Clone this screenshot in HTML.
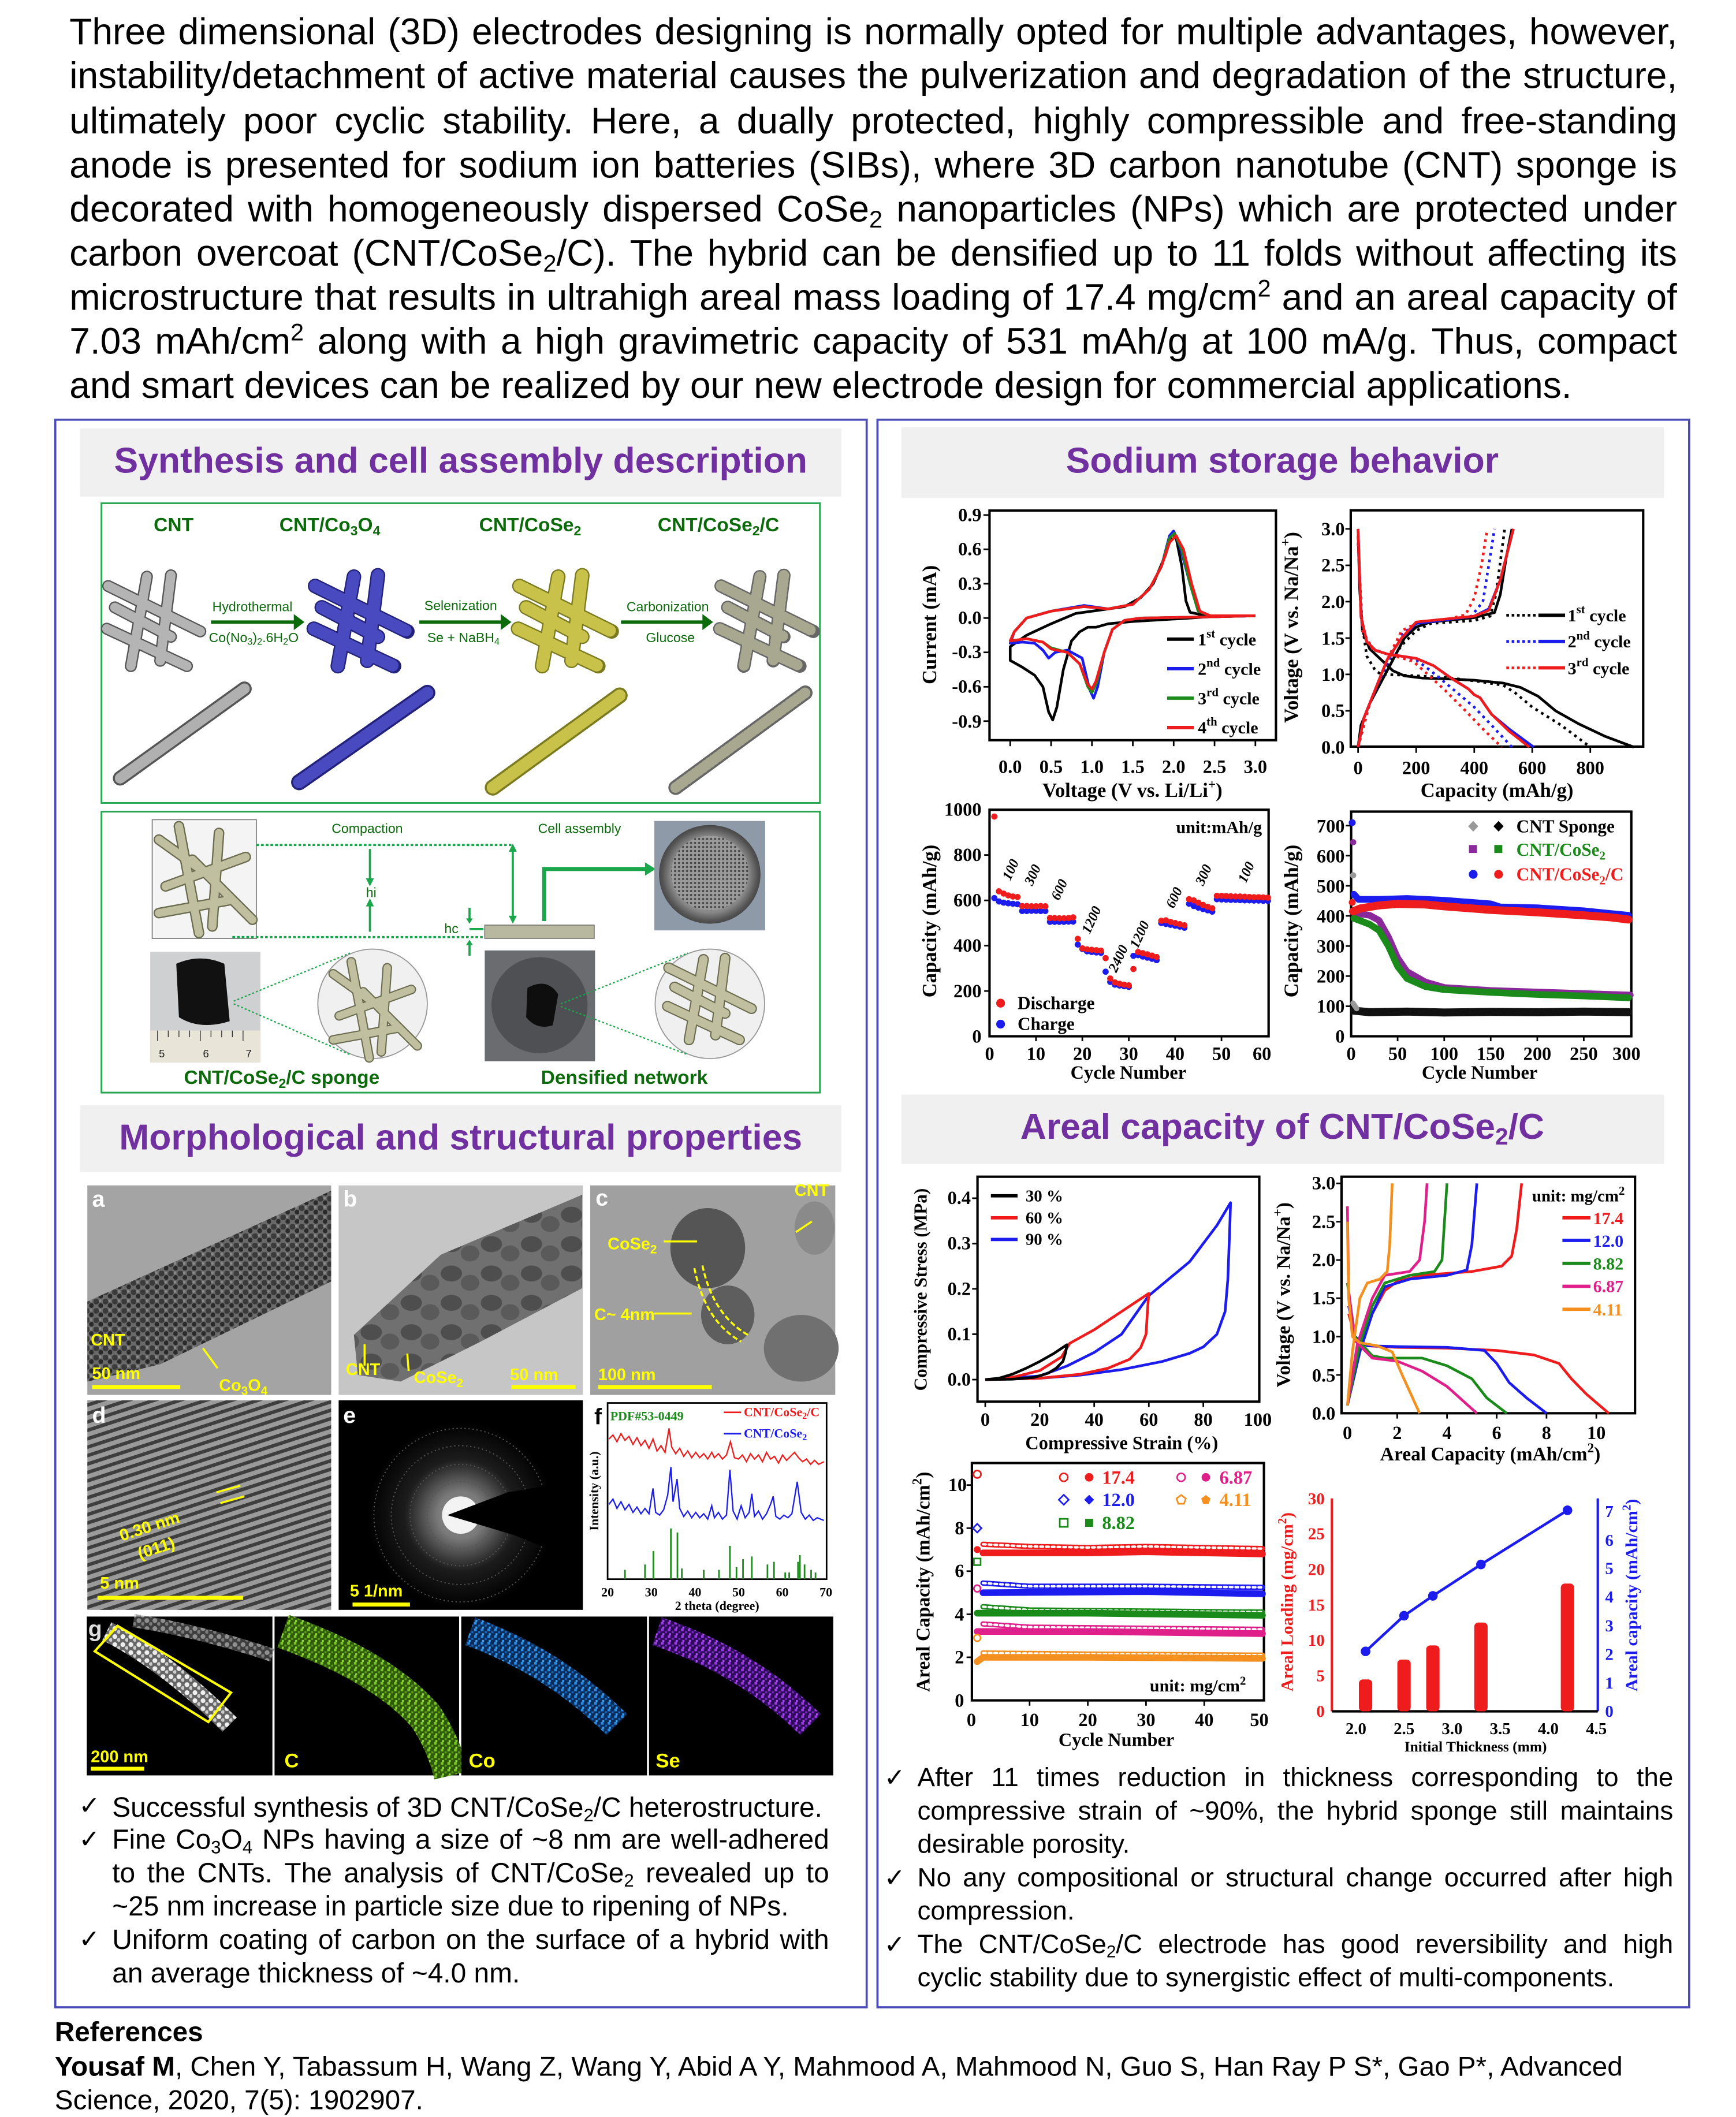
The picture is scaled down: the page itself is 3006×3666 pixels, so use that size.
<!DOCTYPE html>
<html><head><meta charset="utf-8">
<style>
html,body{margin:0;padding:0;background:#fff;}
body{width:3006px;height:3657px;overflow:hidden;position:relative;}
#p{position:absolute;left:0;top:0;width:1300px;height:1582px;transform:scale(2.31231,2.31163);transform-origin:0 0;font-family:"Liberation Sans",Arial,sans-serif;color:#000;}
.ab{position:absolute;left:52px;width:1204px;font-size:27.7px;line-height:33px;height:33px;}
.j{display:flex;justify-content:space-between;white-space:nowrap;}
.j span{display:inline-block;}
sub{font-size:0.65em;vertical-align:-0.25em;line-height:0;}
sup{font-size:0.65em;vertical-align:0.55em;line-height:0;}
.bl{position:absolute;font-size:20.7px;line-height:25px;height:25px;white-space:nowrap;}
.br{font-size:19.8px;}
.ck{position:absolute;font-size:19px;line-height:25px;font-family:"DejaVu Sans",sans-serif;}
.hd{position:absolute;background:#f0f0f0;color:#7030a0;font-weight:bold;font-size:27px;text-align:center;}
svg{position:absolute;left:0;top:0;}
</style></head><body><div id="p">

<div class="ab j" style="top:7px"><span>Three</span><span>dimensional</span><span>(3D)</span><span>electrodes</span><span>designing</span><span>is</span><span>normally</span><span>opted</span><span>for</span><span>multiple</span><span>advantages,</span><span>however,</span></div>
<div class="ab j" style="top:40px"><span>instability/detachment</span><span>of</span><span>active</span><span>material</span><span>causes</span><span>the</span><span>pulverization</span><span>and</span><span>degradation</span><span>of</span><span>the</span><span>structure,</span></div>
<div class="ab j" style="top:73.5px"><span>ultimately</span><span>poor</span><span>cyclic</span><span>stability.</span><span>Here,</span><span>a</span><span>dually</span><span>protected,</span><span>highly</span><span>compressible</span><span>and</span><span>free-standing</span></div>
<div class="ab j" style="top:106.5px"><span>anode</span><span>is</span><span>presented</span><span>for</span><span>sodium</span><span>ion</span><span>batteries</span><span>(SIBs),</span><span>where</span><span>3D</span><span>carbon</span><span>nanotube</span><span>(CNT)</span><span>sponge</span><span>is</span></div>
<div class="ab j" style="top:139.5px"><span>decorated</span><span>with</span><span>homogeneously</span><span>dispersed</span><span>CoSe<sub>2</sub></span><span>nanoparticles</span><span>(NPs)</span><span>which</span><span>are</span><span>protected</span><span>under</span></div>
<div class="ab j" style="top:173px"><span>carbon</span><span>overcoat</span><span>(CNT/CoSe<sub>2</sub>/C).</span><span>The</span><span>hybrid</span><span>can</span><span>be</span><span>densified</span><span>up</span><span>to</span><span>11</span><span>folds</span><span>without</span><span>affecting</span><span>its</span></div>
<div class="ab j" style="top:206px"><span>microstructure</span><span>that</span><span>results</span><span>in</span><span>ultrahigh</span><span>areal</span><span>mass</span><span>loading</span><span>of</span><span>17.4</span><span>mg/cm<sup>2</sup></span><span>and</span><span>an</span><span>areal</span><span>capacity</span><span>of</span></div>
<div class="ab j" style="top:239px"><span>7.03</span><span>mAh/cm<sup>2</sup></span><span>along</span><span>with</span><span>a</span><span>high</span><span>gravimetric</span><span>capacity</span><span>of</span><span>531</span><span>mAh/g</span><span>at</span><span>100</span><span>mA/g.</span><span>Thus,</span><span>compact</span></div>
<div class="ab" style="top:272px;white-space:nowrap">and smart devices can be realized by our new electrode design for commercial applications.</div>

<svg width="1300" height="1582" viewBox="0 0 1300 1582">
<defs>
<pattern id="dots" width="7" height="7" patternUnits="userSpaceOnUse"><rect width="7" height="7" fill="#6a6a6a"/><circle cx="2" cy="2" r="2.2" fill="#3a3a3a"/><circle cx="5.5" cy="5" r="1.8" fill="#2a2a2a"/><circle cx="5" cy="1.5" r="1" fill="#8a8a8a"/></pattern>
<pattern id="fr" width="160" height="6" patternUnits="userSpaceOnUse" patternTransform="rotate(-18)"><rect width="160" height="6" fill="#9a9a9a"/><rect width="160" height="2.6" fill="#3e3e3e"/></pattern>
<pattern id="blobs" width="30" height="22" patternUnits="userSpaceOnUse"><rect width="30" height="22" fill="#707070"/><ellipse cx="8" cy="8" rx="8" ry="6" fill="#4e4e4e"/><ellipse cx="22" cy="15" rx="7" ry="6" fill="#5a5a5a"/></pattern>
<pattern id="ng" width="5" height="5" patternUnits="userSpaceOnUse"><rect width="5" height="5" fill="#2e5a0a"/><rect x="0" y="0" width="2" height="2" fill="#7ac428"/><rect x="3" y="2" width="1.5" height="1.5" fill="#5ea01c"/><rect x="1" y="3.5" width="1.5" height="1.5" fill="#8fd83a"/></pattern>
<pattern id="nb" width="5" height="5" patternUnits="userSpaceOnUse"><rect width="5" height="5" fill="#0a2c5a"/><rect x="0" y="0" width="2" height="2" fill="#2a8ae0"/><rect x="3" y="2" width="1.5" height="1.5" fill="#1a6ac0"/><rect x="1" y="3.5" width="1.5" height="1.5" fill="#3aa0f0"/></pattern>
<pattern id="np" width="5" height="5" patternUnits="userSpaceOnUse"><rect width="5" height="5" fill="#2e0a5a"/><rect x="0" y="0" width="2" height="2" fill="#9a3ae0"/><rect x="3" y="2" width="1.5" height="1.5" fill="#7a2ac0"/><rect x="1" y="3.5" width="1.5" height="1.5" fill="#a84af0"/></pattern>
<pattern id="nw" width="6" height="6" patternUnits="userSpaceOnUse"><rect width="6" height="6" fill="#666"/><circle cx="2" cy="2" r="1.8" fill="#eee"/><circle cx="5" cy="4.5" r="1.4" fill="#ccc"/></pattern>
<radialGradient id="glow"><stop offset="0" stop-color="#fff"/><stop offset="0.25" stop-color="#ddd"/><stop offset="0.6" stop-color="#333"/><stop offset="1" stop-color="#000"/></radialGradient>
<radialGradient id="coin" cx="0.5" cy="0.5" r="0.55"><stop offset="0" stop-color="#bbb"/><stop offset="0.7" stop-color="#888"/><stop offset="0.85" stop-color="#555"/><stop offset="1" stop-color="#333"/></radialGradient>
<pattern id="mesh" width="3" height="3" patternUnits="userSpaceOnUse"><rect width="3" height="3" fill="#9a9a9a"/><circle cx="1.5" cy="1.5" r="0.8" fill="#444"/></pattern>
<g id="cl"><line x1="3" y1="10" x2="72" y2="44"/><line x1="2" y1="42" x2="62" y2="70"/><line x1="32" y1="3" x2="20" y2="70"/><line x1="50" y1="2" x2="42" y2="66"/><line x1="8" y1="26" x2="50" y2="48"/></g>
<g id="cube"><line x1="5" y1="15" x2="40" y2="40"/><line x1="10" y1="50" x2="70" y2="28"/><line x1="20" y1="5" x2="35" y2="85"/><line x1="50" y1="10" x2="45" y2="80"/><line x1="5" y1="70" x2="60" y2="60"/><line x1="30" y1="30" x2="75" y2="75"/></g>
</defs>

<rect x="41.4" y="314.4" width="607.6" height="1189.3" fill="none" stroke="#4a4ab8" stroke-width="1.6"/>
<rect x="657.1" y="314.4" width="607.8" height="1189.3" fill="none" stroke="#4a4ab8" stroke-width="1.6"/>

<rect x="76" y="377" width="538" height="224.5" fill="#fff" stroke="#2aa552" stroke-width="1.3"/>
<g font-family="Liberation Sans,sans-serif" font-weight="bold" fill="#0b6b0b" text-anchor="middle" font-size="14.5">
<text x="130" y="398">CNT</text>
<text x="247" y="398">CNT/Co<tspan font-size="10" dy="3">3</tspan><tspan dy="-3">O</tspan><tspan font-size="10" dy="3">4</tspan></text>
<text x="397" y="398">CNT/CoSe<tspan font-size="10" dy="3">2</tspan></text>
<text x="538" y="398">CNT/CoSe<tspan font-size="10" dy="3">2</tspan><tspan dy="-3">/C</tspan></text>
<g font-size="10" font-weight="normal" fill="#0b6b0b">
<text x="189" y="458">Hydrothermal</text>
<text x="190" y="481">Co(No<tspan font-size="7" dy="2">3</tspan><tspan dy="-2">)</tspan><tspan font-size="7" dy="2">2</tspan><tspan dy="-2">.6H</tspan><tspan font-size="7" dy="2">2</tspan><tspan dy="-2">O</tspan></text>
<text x="345" y="457">Selenization</text>
<text x="347" y="481">Se + NaBH<tspan font-size="7" dy="2">4</tspan></text>
<text x="500" y="458">Carbonization</text>
<text x="502" y="481">Glucose</text>
</g></g>
<g stroke="#0b6b0b" stroke-width="2.5" fill="#0b6b0b">
<line x1="158" y1="466" x2="222" y2="466"/><polygon points="220,460 228,466 220,472" stroke="none"/>
<line x1="314" y1="466" x2="377" y2="466"/><polygon points="375,460 383,466 375,472" stroke="none"/>
<line x1="465" y1="466" x2="528" y2="466"/><polygon points="526,460 534,466 526,472" stroke="none"/>
</g>
<g transform="translate(78,429)" stroke-linecap="round" fill="none"><use href="#cl" stroke="#555" stroke-width="9"/><use href="#cl" stroke="#b4b4b4" stroke-width="7"/></g>
<g transform="translate(233,429)" stroke-linecap="round" fill="none"><use href="#cl" stroke="#22227a" stroke-width="11"/><use href="#cl" stroke="#4a4ac0" stroke-width="9" stroke-dasharray="2 1.5"/></g>
<g transform="translate(386,429)" stroke-linecap="round" fill="none"><use href="#cl" stroke="#7a7a20" stroke-width="11"/><use href="#cl" stroke="#c9c24a" stroke-width="9" stroke-dasharray="2 1.5"/></g>
<g transform="translate(537,429)" stroke-linecap="round" fill="none"><use href="#cl" stroke="#666" stroke-width="10"/><use href="#cl" stroke="#a8a890" stroke-width="8" stroke-dasharray="1 2.5"/></g>
<g stroke-linecap="round">
<line x1="90" y1="583" x2="183" y2="516" stroke="#555" stroke-width="11"/><line x1="90" y1="583" x2="183" y2="516" stroke="#b0b0b0" stroke-width="8"/>
<line x1="224" y1="586" x2="320" y2="519" stroke="#22227a" stroke-width="12"/><line x1="224" y1="586" x2="320" y2="519" stroke="#4a4ac0" stroke-width="9" stroke-dasharray="2 1.5"/>
<line x1="369" y1="590" x2="464" y2="521" stroke="#7a7a20" stroke-width="12"/><line x1="369" y1="590" x2="464" y2="521" stroke="#c9c24a" stroke-width="9" stroke-dasharray="2 1.5"/>
<line x1="506" y1="590" x2="603" y2="519" stroke="#666" stroke-width="11"/><line x1="506" y1="590" x2="603" y2="519" stroke="#a8a890" stroke-width="8" stroke-dasharray="1 2.5"/>
</g>

<rect x="76" y="608" width="538" height="210.5" fill="#fff" stroke="#2aa552" stroke-width="1.3"/>
<rect x="114" y="614" width="78" height="89" fill="#f4f4f4" stroke="#888" stroke-width="0.8"/>
<g transform="translate(114,614)" stroke-linecap="round" fill="none"><use href="#cube" stroke="#6b6b50" stroke-width="8"/><use href="#cube" stroke="#c0c0a0" stroke-width="6"/></g>
<g font-family="Liberation Sans,sans-serif" fill="#0b6b0b" font-size="10" text-anchor="middle">
<text x="275" y="624">Compaction</text><text x="434" y="624">Cell assembly</text><text x="278" y="672">hi</text><text x="338" y="699">hc</text>
</g>
<g stroke="#1aa64a" stroke-width="1.6" fill="none">
<line x1="192" y1="633" x2="384" y2="633" stroke-dasharray="2 1.5"/>
<line x1="174" y1="702" x2="362" y2="702" stroke-dasharray="2 1.5"/>
<line x1="277" y1="636" x2="277" y2="660"/><line x1="277" y1="698" x2="277" y2="677"/>
<line x1="384" y1="636" x2="384" y2="689"/>
<line x1="351.6" y1="680" x2="351.6" y2="690"/><line x1="351.6" y1="716" x2="351.6" y2="706"/><line x1="351.6" y1="696" x2="362" y2="696"/>
<path d="M407.5,690 L407.5,651 L484,651" stroke-width="3"/>
</g>
<g fill="#1aa64a"><polygon points="274,658 280,658 277,664"/><polygon points="274,679 280,679 277,673"/><polygon points="381,638 387,638 384,632"/><polygon points="381,686 387,686 384,692"/><polygon points="483,646 491,651 483,656"/><polygon points="349,688 354,688 351.6,692"/><polygon points="349,708 354,708 351.6,704"/></g>
<rect x="363" y="693" width="82" height="10" fill="#b8b8a0" stroke="#666" stroke-width="0.6"/>
<rect x="490" y="615" width="83" height="82" fill="#8e9aa8"/>
<ellipse cx="531.5" cy="655" rx="38" ry="37" fill="url(#coin)"/>
<ellipse cx="531.5" cy="654" rx="29" ry="28" fill="url(#mesh)"/>
<rect x="112.5" y="713" width="82.5" height="83" fill="#cfd0d2"/>
<path d="M132,722 Q150,714 168,722 L172,765 Q150,772 134,762 Z" fill="#111"/>
<rect x="112.5" y="772" width="82.5" height="24" fill="#e8e4d8"/>
<g stroke="#333" stroke-width="0.6"><line x1="118" y1="772" x2="118" y2="780"/><line x1="126" y1="772" x2="126" y2="777"/><line x1="134" y1="772" x2="134" y2="777"/><line x1="142" y1="772" x2="142" y2="777"/><line x1="150" y1="772" x2="150" y2="780"/><line x1="158" y1="772" x2="158" y2="777"/><line x1="166" y1="772" x2="166" y2="777"/><line x1="174" y1="772" x2="174" y2="777"/><line x1="182" y1="772" x2="182" y2="780"/></g>
<g font-family="Liberation Sans" font-size="8" fill="#222"><text x="119" y="792">5</text><text x="152" y="792">6</text><text x="184" y="792">7</text></g>
<circle cx="279" cy="752" r="41" fill="#f0f0f0" stroke="#999" stroke-width="0.8"/>
<g transform="translate(245,716) scale(0.9)" stroke-linecap="round" fill="none"><use href="#cube" stroke="#6b6b50" stroke-width="8"/><use href="#cube" stroke="#c0c0a0" stroke-width="6"/></g>
<rect x="363" y="712" width="82.6" height="83" fill="#6a6c70"/>
<circle cx="404" cy="753" r="36" fill="#4e5054"/>
<path d="M395,740 Q410,732 418,745 L414,768 Q402,772 394,762 Z" fill="#0e0e0e"/>
<circle cx="531.6" cy="752" r="41" fill="#f0f0f0" stroke="#999" stroke-width="0.8"/>
<g transform="translate(498,716) scale(0.9)" stroke-linecap="round" fill="none"><use href="#cl" stroke="#6b6b50" stroke-width="9"/><use href="#cl" stroke="#c0c0a0" stroke-width="7"/></g>
<g stroke="#1aa64a" stroke-width="1" stroke-dasharray="1.5 1.5"><line x1="175" y1="750" x2="262" y2="714"/><line x1="175" y1="752" x2="262" y2="790"/><line x1="420" y1="752" x2="515" y2="714"/><line x1="420" y1="754" x2="515" y2="790"/></g>
<g font-family="Liberation Sans,sans-serif" font-weight="bold" fill="#0b6b0b" text-anchor="middle" font-size="14.5">
<text x="211" y="812">CNT/CoSe<tspan font-size="10" dy="3">2</tspan><tspan dy="-3">/C sponge</tspan></text>
<text x="467.5" y="812">Densified network</text>
</g>

<rect x="65.4" y="888" width="182.6" height="157" fill="#a4a4a4"/>
<polygon points="65.4,975 248,892 248,960 120,1022 65.4,1035" fill="url(#dots)"/>
<rect x="253.6" y="888" width="182.9" height="157" fill="#c6c6c6"/>
<polygon points="265,1000 330,940 436,895 436,965 360,1005 300,1035 268,1030" fill="url(#blobs)"/>
<rect x="442" y="888" width="183.5" height="157" fill="#a0a0a0"/>
<ellipse cx="530" cy="935" rx="28" ry="30" fill="#555"/><ellipse cx="545" cy="985" rx="20" ry="22" fill="#5e5e5e"/><ellipse cx="600" cy="1010" rx="28" ry="25" fill="#707070"/><ellipse cx="610" cy="920" rx="15" ry="20" fill="#8a8a8a"/>
<path d="M520,950 Q528,990 555,1005" stroke="#ffff00" stroke-width="1.5" fill="none" stroke-dasharray="4 2"/><path d="M526,948 Q534,985 560,1000" stroke="#ffff00" stroke-width="1.5" fill="none" stroke-dasharray="4 2"/>
<rect x="65.4" y="1049" width="182.6" height="157" fill="url(#fr)"/>
<rect x="253.6" y="1049" width="182.9" height="157" fill="#000"/>
<circle cx="345" cy="1135" r="70" fill="url(#glow)" opacity="0.55"/>
<g fill="none" stroke="#555" stroke-width="0.8" stroke-dasharray="1 2"><circle cx="345" cy="1135" r="25"/><circle cx="345" cy="1135" r="38"/><circle cx="345" cy="1135" r="52"/><circle cx="345" cy="1135" r="65"/></g>
<circle cx="345" cy="1135" r="14" fill="#fff" opacity="0.9"/>
<polygon points="335,1135 380,1118 410,1113 436,1112 436,1158 410,1160 385,1150" fill="#000"/>
<rect x="442" y="1049" width="183.5" height="157" fill="#fff"/>
<!-- EDS -->
<rect x="65" y="1211" width="139" height="119" fill="#000"/>
<path d="M80,1222 Q125,1245 172,1292" stroke="url(#nw)" stroke-width="15" fill="none"/>
<path d="M100,1214 Q150,1222 204,1240" stroke="url(#nw)" stroke-width="10" fill="none" opacity="0.6"/>
<polygon points="71,1237 88,1218 173,1268 156,1290" fill="none" stroke="#ffff00" stroke-width="1.8"/>
<rect x="205.6" y="1211" width="138.2" height="119" fill="#000"/>
<path d="M212,1222 Q285,1248 318,1285 Q332,1305 338,1330" stroke="url(#ng)" stroke-width="26" fill="none"/>
<rect x="345.4" y="1211" width="139.1" height="119" fill="#000"/>
<path d="M352,1222 Q415,1245 462,1292" stroke="url(#nb)" stroke-width="22" fill="none"/>
<rect x="486" y="1211" width="138" height="119" fill="#000"/>
<path d="M492,1222 Q560,1245 607,1292" stroke="url(#np)" stroke-width="22" fill="none"/>
<g font-family="Liberation Sans,sans-serif" font-weight="bold">
<g fill="#fff" font-size="17"><text x="69" y="904">a</text><text x="257" y="904">b</text><text x="446" y="903">c</text><text x="69" y="1066">d</text><text x="257" y="1066">e</text><text x="66" y="1226" fill="#ddd">g</text></g>
<text x="445" y="1067" font-size="17" fill="#000">f</text>
<g fill="#ffff00" font-size="12.5"><text x="68" y="1066" dy="-58">CNT</text><text x="69" y="1033">50 nm</text><text x="164" y="1042">Co<tspan font-size="9" dy="3">3</tspan><tspan dy="-3">O</tspan><tspan font-size="9" dy="3">4</tspan></text>
<text x="259" y="1030">CNT</text><text x="310" y="1036">CoSe<tspan font-size="9" dy="3">2</tspan></text><text x="382" y="1034">50 nm</text>
<text x="595" y="994" dy="-98">CNT</text><text x="455" y="992" dy="-56">CoSe<tspan font-size="9" dy="3">2</tspan></text><text x="445" y="1044" dy="-55">C~ 4nm</text><text x="448" y="1034">100 nm</text>
<text x="75" y="1190">5 nm</text><text x="262" y="1245" dy="-49">5 1/nm</text>
<text x="68" y="1320">200 nm</text><text x="213" y="1324" font-size="15">C</text><text x="351" y="1324" font-size="15">Co</text><text x="491" y="1324" font-size="15">Se</text>
<text x="88" y="1145" transform="rotate(-18 120 1140)">0.30 nm</text><text x="103" y="1163" transform="rotate(-18 120 1160)">(011)</text></g>
</g>
<g stroke="#ffff00" stroke-width="3"><line x1="69" y1="1039" x2="135" y2="1039"/><line x1="383" y1="1039" x2="431" y2="1039"/><line x1="448" y1="1039" x2="533" y2="1039"/><line x1="73" y1="1197" x2="182" y2="1197"/><line x1="264" y1="1202" x2="307" y2="1202"/><line x1="68" y1="1325" x2="108" y2="1325"/></g>
<g stroke="#ffff00" stroke-width="1.5" fill="#ffff00"><line x1="152" y1="1010" x2="163" y2="1025"/><line x1="273" y1="1007" x2="273" y2="1023"/><line x1="305" y1="1014" x2="306" y2="1027"/><line x1="497" y1="930" x2="522" y2="930"/><line x1="490" y1="984" x2="518" y2="984"/><line x1="608" y1="915" x2="596" y2="923"/><line x1="162" y1="1118" x2="180" y2="1113"/><line x1="165" y1="1126" x2="183" y2="1121"/></g>
<rect x="455" y="1051" width="164" height="132" fill="none" stroke="#000" stroke-width="1.2"/>
<polyline fill="none" stroke="#ee1c1c" stroke-width="1" points="456,1078 459,1075 462,1080 465,1074 468,1079 471,1076 474,1082 477,1077 480,1083 483,1079 486,1085 489,1078 492,1087 495,1083 498,1088 501,1070 503,1084 506,1089 509,1085 512,1091 515,1087 518,1092 521,1088 524,1092 527,1089 530,1093 533,1088 535,1092 538,1089 541,1093 544,1090 547,1080 550,1092 553,1093 556,1090 559,1095 562,1089 565,1093 568,1090 571,1095 574,1088 577,1093 580,1091 583,1096 586,1090 589,1094 592,1091 595,1088 598,1092 601,1095 604,1093 607,1097 610,1094 613,1097 617,1095"/>
<polyline fill="none" stroke="#1c1cee" stroke-width="1" points="456,1127 459,1123 462,1130 465,1125 468,1131 471,1127 474,1133 477,1129 480,1134 483,1130 486,1134 489,1115 491,1133 494,1135 497,1131 500,1120 502.4,1099 504,1125 507,1108 509,1130 512,1136 515,1132 518,1137 521,1133 524,1137 527,1134 530,1138 533,1128 535,1137 538,1133 541,1138 544,1135 546.6,1101 549,1132 552,1138 555,1128 558,1137 561,1133 563,1119 565,1136 568,1132 571,1138 574,1134 577,1127 579,1121 581,1136 584,1138 587,1135 590,1137 593,1134 597,1110 600,1133 603,1138 606,1135 609,1139 612,1137 617,1139"/>
<g stroke="#1a8a1a" stroke-width="1.2"><line x1="468" y1="1183" x2="468" y2="1176"/><line x1="483" y1="1183" x2="483" y2="1172"/><line x1="489.3" y1="1183" x2="489.3" y2="1162"/><line x1="502.4" y1="1183" x2="502.4" y2="1145"/><line x1="507.3" y1="1183" x2="507.3" y2="1148"/><line x1="510.6" y1="1183" x2="510.6" y2="1175"/><line x1="527" y1="1183" x2="527" y2="1176"/><line x1="538.4" y1="1183" x2="538.4" y2="1176"/><line x1="546.6" y1="1183" x2="546.6" y2="1158"/><line x1="551.5" y1="1183" x2="551.5" y2="1174"/><line x1="556.4" y1="1183" x2="556.4" y2="1168"/><line x1="563" y1="1183" x2="563" y2="1166"/><line x1="574.7" y1="1183" x2="574.7" y2="1172"/><line x1="579.6" y1="1183" x2="579.6" y2="1170"/><line x1="588" y1="1183" x2="588" y2="1178"/><line x1="591" y1="1183" x2="591" y2="1178"/><line x1="597.6" y1="1183" x2="597.6" y2="1170"/><line x1="599" y1="1183" x2="599" y2="1165"/><line x1="602.5" y1="1183" x2="602.5" y2="1172"/><line x1="607.4" y1="1183" x2="607.4" y2="1176"/><line x1="610.7" y1="1183" x2="610.7" y2="1178"/></g>
<g font-family="Liberation Serif,serif" font-weight="bold" font-size="9.5">
<g text-anchor="middle"><text x="455" y="1196">20</text><text x="487.7" y="1196">30</text><text x="520.4" y="1196">40</text><text x="553.1" y="1196">50</text><text x="585.8" y="1196">60</text><text x="618.5" y="1196">70</text><text x="537" y="1206">2 theta (degree)</text></g>
<text transform="translate(448,1117) rotate(-90)" text-anchor="middle">Intensity (a.u.)</text>
<text x="457" y="1064" fill="#1a8a1a">PDF#53-0449</text>
<text x="557" y="1061" fill="#ee1c1c">CNT/CoSe<tspan font-size="7" dy="2">2</tspan><tspan dy="-2">/C</tspan></text>
<text x="557" y="1077" fill="#1c1cee">CNT/CoSe<tspan font-size="7" dy="2">2</tspan></text>
</g>
<line x1="542" y1="1058" x2="555" y2="1058" stroke="#ee1c1c" stroke-width="1.2"/><line x1="542" y1="1074" x2="555" y2="1074" stroke="#1c1cee" stroke-width="1.2"/>

<g font-family="Liberation Serif,serif" font-weight="bold" font-size="14" fill="#000">
<rect x="741" y="382.5" width="214.5" height="172" fill="none" stroke="#000" stroke-width="1.8"/>
<g text-anchor="middle"><text x="756.5" y="579">0.0</text><text x="787.1" y="579">0.5</text><text x="817.7" y="579">1.0</text><text x="848.3" y="579">1.5</text><text x="878.9" y="579">2.0</text><text x="909.5" y="579">2.5</text><text x="940.1" y="579">3.0</text>
<text x="848" y="597" font-size="15">Voltage (V vs. Li/Li<tspan font-size="10" dy="-6">+</tspan><tspan dy="6">)</tspan></text></g>
<g text-anchor="end"><text x="735" y="390.5">0.9</text><text x="735" y="416">0.6</text><text x="735" y="442">0.3</text><text x="735" y="467.5">0.0</text><text x="735" y="493">-0.3</text><text x="735" y="519">-0.6</text><text x="735" y="545">-0.9</text></g>
<g stroke="#000" stroke-width="1.2"><line x1="756.5" y1="554.5" x2="756.5" y2="559"/><line x1="787.1" y1="554.5" x2="787.1" y2="559"/><line x1="817.7" y1="554.5" x2="817.7" y2="559"/><line x1="848.3" y1="554.5" x2="848.3" y2="559"/><line x1="878.9" y1="554.5" x2="878.9" y2="559"/><line x1="909.5" y1="554.5" x2="909.5" y2="559"/><line x1="940.1" y1="554.5" x2="940.1" y2="559"/>
<line x1="741" y1="385.8" x2="736.5" y2="385.8"/><line x1="741" y1="411.5" x2="736.5" y2="411.5"/><line x1="741" y1="437.3" x2="736.5" y2="437.3"/><line x1="741" y1="463" x2="736.5" y2="463"/><line x1="741" y1="488.7" x2="736.5" y2="488.7"/><line x1="741" y1="514.5" x2="736.5" y2="514.5"/><line x1="741" y1="540.2" x2="736.5" y2="540.2"/></g>
<text transform="translate(701,468) rotate(-90)" text-anchor="middle" font-size="15">Current (mA)</text>
<g transform="translate(756.5,463) scale(61.2,-85.8)" fill="none" stroke-width="2" stroke-linejoin="round">
<polyline vector-effect="non-scaling-stroke" stroke="#000" points="3.0,0.02 2.4,0.01 2.2,0 1.5,-0.03 1.2,-0.05 1.05,-0.08 0.95,-0.08 0.85,-0.12 0.75,-0.2 0.65,-0.45 0.57,-0.78 0.52,-0.89 0.47,-0.82 0.4,-0.6 0.3,-0.5 0.15,-0.43 0,-0.37 0,-0.25 0.2,-0.15 0.5,-0.05 0.8,0.04 1.1,0.07 1.4,0.1 1.6,0.18 1.75,0.3 1.9,0.55 1.98,0.74 2.03,0.7 2.1,0.45 2.15,0.15 2.2,0.05 2.4,0.02 3.0,0.02"/>
<polyline vector-effect="non-scaling-stroke" stroke="#1c1cee" points="3.0,0.02 2.4,0.01 1.6,0 1.4,-0.02 1.25,-0.1 1.15,-0.3 1.07,-0.6 1.02,-0.7 0.97,-0.62 0.88,-0.35 0.7,-0.28 0.55,-0.3 0.47,-0.35 0.4,-0.28 0.3,-0.22 0.15,-0.21 0,-0.22 0.05,-0.12 0.2,0.0 0.5,0.06 0.9,0.11 1.2,0.08 1.5,0.12 1.7,0.25 1.85,0.45 1.95,0.72 2.0,0.76 2.08,0.62 2.2,0.3 2.3,0.06 2.45,0.02 3.0,0.02"/>
<polyline vector-effect="non-scaling-stroke" stroke="#1a8a1a" points="3.0,0.02 2.4,0.01 1.6,0 1.4,-0.02 1.25,-0.1 1.15,-0.3 1.06,-0.56 1.0,-0.65 0.95,-0.6 0.85,-0.4 0.7,-0.3 0.5,-0.26 0.4,-0.21 0.2,-0.18 0,-0.2 0.05,-0.12 0.2,0.0 0.5,0.06 0.9,0.1 1.2,0.08 1.5,0.12 1.7,0.25 1.85,0.45 1.95,0.7 2.01,0.74 2.1,0.6 2.2,0.3 2.3,0.06 2.45,0.02 3.0,0.02"/>
<polyline vector-effect="non-scaling-stroke" stroke="#ee1c1c" points="3.0,0.02 2.4,0.01 1.6,0 1.4,-0.02 1.25,-0.1 1.15,-0.3 1.05,-0.55 1.0,-0.62 0.95,-0.58 0.85,-0.4 0.7,-0.3 0.5,-0.27 0.4,-0.21 0.2,-0.18 0,-0.2 0.05,-0.12 0.2,0.0 0.5,0.06 0.9,0.1 1.2,0.08 1.5,0.12 1.7,0.25 1.85,0.45 1.95,0.66 2.03,0.72 2.12,0.6 2.22,0.3 2.32,0.06 2.45,0.02 3.0,0.02"/>
</g>
<g stroke-width="2.5"><line x1="874" y1="478.8" x2="894" y2="478.8" stroke="#000"/><line x1="874" y1="500.9" x2="894" y2="500.9" stroke="#1c1cee"/><line x1="874" y1="523" x2="894" y2="523" stroke="#1a8a1a"/><line x1="874" y1="545" x2="894" y2="545" stroke="#ee1c1c"/></g>
<g font-size="13"><text x="897" y="483.5">1<tspan font-size="9" dy="-6">st</tspan><tspan dy="6"> cycle</tspan></text><text x="897" y="505.5">2<tspan font-size="9" dy="-6">nd</tspan><tspan dy="6"> cycle</tspan></text><text x="897" y="527.5">3<tspan font-size="9" dy="-6">rd</tspan><tspan dy="6"> cycle</tspan></text><text x="897" y="549.5">4<tspan font-size="9" dy="-6">th</tspan><tspan dy="6"> cycle</tspan></text></g>

<rect x="1011.5" y="382.3" width="219" height="177" fill="none" stroke="#000" stroke-width="1.8"/>
<g text-anchor="middle"><text x="1017" y="580">0</text><text x="1060.5" y="580">200</text><text x="1104" y="580">400</text><text x="1147.4" y="580">600</text><text x="1190.9" y="580">800</text>
<text x="1121" y="597" font-size="15">Capacity (mAh/g)</text></g>
<g text-anchor="end"><text x="1007" y="564.5">0.0</text><text x="1007" y="537">0.5</text><text x="1007" y="510">1.0</text><text x="1007" y="483">1.5</text><text x="1007" y="455.5">2.0</text><text x="1007" y="428">2.5</text><text x="1007" y="401">3.0</text></g>
<g stroke="#000" stroke-width="1.2"><line x1="1017" y1="559.5" x2="1017" y2="564"/><line x1="1060.5" y1="559.5" x2="1060.5" y2="564"/><line x1="1104" y1="559.5" x2="1104" y2="564"/><line x1="1147.4" y1="559.5" x2="1147.4" y2="564"/><line x1="1190.9" y1="559.5" x2="1190.9" y2="564"/>
<line x1="1011.5" y1="532.5" x2="1007.5" y2="532.5"/><line x1="1011.5" y1="505.2" x2="1007.5" y2="505.2"/><line x1="1011.5" y1="478" x2="1007.5" y2="478"/><line x1="1011.5" y1="450.7" x2="1007.5" y2="450.7"/><line x1="1011.5" y1="423.5" x2="1007.5" y2="423.5"/><line x1="1011.5" y1="396.2" x2="1007.5" y2="396.2"/></g>
<text transform="translate(972,470) rotate(-90)" text-anchor="middle" font-size="15">Voltage (V vs. Na/Na<tspan font-size="10" dy="-6">+</tspan><tspan dy="6">)</tspan></text>
<g transform="translate(1017,559.7) scale(0.2174,-54.5)" fill="none" stroke-width="2" stroke-linejoin="round">
<polyline vector-effect="non-scaling-stroke" stroke="#000" points="0,2.98 5,2.2 15,1.6 40,1.35 80,1.2 120,1.05 160,0.98 220,0.95 300,0.94 400,0.92 500,0.88 560,0.82 620,0.7 680,0.5 760,0.32 850,0.15 950,0"/>
<polyline vector-effect="non-scaling-stroke" stroke="#000" stroke-dasharray="2 3" points="0,2.9 10,1.8 30,1.25 60,1.05 80,1.0 150,0.99 300,0.96 420,0.9 500,0.85 540,0.75 600,0.55 700,0.3 800,0"/>
<polyline vector-effect="non-scaling-stroke" stroke="#000" points="0,0 10,0.3 40,0.6 80,0.9 120,1.2 160,1.5 200,1.65 250,1.72 400,1.78 470,1.85 490,2.1 510,2.6 530,3.0"/>
<polyline vector-effect="non-scaling-stroke" stroke="#000" stroke-dasharray="2 3" points="0,0 40,0.6 100,1.1 150,1.4 200,1.6 250,1.7 400,1.74 455,1.8 475,2.1 505,3.0"/>
<polyline vector-effect="non-scaling-stroke" stroke="#1c1cee" stroke-dasharray="2 3" points="0,2.8 15,1.6 50,1.35 100,1.28 200,1.2 250,1.05 320,0.82 400,0.55 460,0.3 530,0"/>
<polyline vector-effect="non-scaling-stroke" stroke="#ee1c1c" stroke-dasharray="2 3" points="0,2.8 15,1.6 50,1.35 100,1.28 190,1.18 240,1.0 300,0.78 370,0.5 430,0.25 495,0"/>
<polyline vector-effect="non-scaling-stroke" stroke="#1c1cee" stroke-dasharray="2 3" points="0,0 40,0.6 100,1.15 150,1.55 200,1.7 300,1.75 390,1.8 430,2.0 450,2.5 470,3.0"/>
<polyline vector-effect="non-scaling-stroke" stroke="#ee1c1c" stroke-dasharray="2 3" points="0,0 40,0.6 100,1.2 150,1.6 200,1.7 300,1.75 370,1.82 400,2.05 425,2.5 445,3.0"/>
<polyline vector-effect="non-scaling-stroke" stroke="#1c1cee" points="0,3.0 10,1.8 30,1.45 60,1.33 100,1.28 200,1.22 260,1.12 320,0.95 380,0.8 400,0.72 420,0.68 460,0.45 520,0.25 605,0.0"/>
<polyline vector-effect="non-scaling-stroke" stroke="#1c1cee" points="0,0 20,0.4 60,0.8 100,1.2 150,1.5 200,1.7 300,1.75 400,1.8 450,1.9 490,2.3 535,3.0"/>
<polyline vector-effect="non-scaling-stroke" stroke="#ee1c1c" points="0,3.0 10,1.8 30,1.45 60,1.33 100,1.28 200,1.22 260,1.12 320,0.95 380,0.8 400,0.72 420,0.68 460,0.45 520,0.22 590,0.0"/>
<polyline vector-effect="non-scaling-stroke" stroke="#ee1c1c" points="0,0 20,0.4 60,0.8 100,1.2 150,1.5 200,1.72 300,1.76 400,1.8 450,1.88 490,2.3 535,3.0"/>
</g>
<g stroke-width="2"><line x1="1128" y1="460.9" x2="1150" y2="460.9" stroke="#000" stroke-dasharray="2 2"/><line x1="1152" y1="460.9" x2="1172" y2="460.9" stroke="#000" stroke-width="2.5"/>
<line x1="1128" y1="480.5" x2="1150" y2="480.5" stroke="#1c1cee" stroke-dasharray="2 2"/><line x1="1152" y1="480.5" x2="1172" y2="480.5" stroke="#1c1cee" stroke-width="2.5"/>
<line x1="1128" y1="500.3" x2="1150" y2="500.3" stroke="#ee1c1c" stroke-dasharray="2 2"/><line x1="1152" y1="500.3" x2="1172" y2="500.3" stroke="#ee1c1c" stroke-width="2.5"/></g>
<g font-size="13"><text x="1174" y="465.5">1<tspan font-size="9" dy="-6">st</tspan><tspan dy="6"> cycle</tspan></text><text x="1174" y="485">2<tspan font-size="9" dy="-6">nd</tspan><tspan dy="6"> cycle</tspan></text><text x="1174" y="505">3<tspan font-size="9" dy="-6">rd</tspan><tspan dy="6"> cycle</tspan></text></g>

<rect x="741" y="606.6" width="209" height="169.7" fill="none" stroke="#000" stroke-width="1.8"/>
<g text-anchor="middle"><text x="741.1" y="794">0</text><text x="775.8" y="794">10</text><text x="810.5" y="794">20</text><text x="845.3" y="794">30</text><text x="880" y="794">40</text><text x="914.7" y="794">50</text><text x="945" y="794">60</text>
<text x="845" y="808" font-size="14">Cycle Number</text></g>
<g text-anchor="end"><text x="735" y="781">0</text><text x="735" y="747">200</text><text x="735" y="713">400</text><text x="735" y="679">600</text><text x="735" y="645">800</text><text x="735" y="611">1000</text></g>
<g stroke="#000" stroke-width="1.2"><line x1="775.8" y1="776" x2="775.8" y2="780"/><line x1="810.5" y1="776" x2="810.5" y2="780"/><line x1="845.3" y1="776" x2="845.3" y2="780"/><line x1="880" y1="776" x2="880" y2="780"/><line x1="914.7" y1="776" x2="914.7" y2="780"/>
<line x1="741" y1="742.4" x2="737" y2="742.4"/><line x1="741" y1="708.4" x2="737" y2="708.4"/><line x1="741" y1="674.5" x2="737" y2="674.5"/><line x1="741" y1="640.5" x2="737" y2="640.5"/></g>
<text transform="translate(701,690) rotate(-90)" text-anchor="middle" font-size="15">Capacity (mAh/g)</text>
<g transform="translate(741.1,776.3) scale(3.472,-0.1697)" fill="none" stroke-width="4.6" stroke-linecap="round">
<path vector-effect="non-scaling-stroke" stroke="#1c1cee" d="M1 610h.02M2 595h.02M3 590h.02M4 587h.02M5 585h.02M6 583h.02M7 553h.02M8 553h.02M9 554h.02M10 554h.02M11 553h.02M12 553h.02M13 505h.02M14 505h.02M15 505h.02M16 505h.02M17 506h.02M18 506h.02M19 405h.02M20 385h.02M21 375h.02M22 372h.02M23 370h.02M24 368h.02M25 285h.02M26 240h.02M27 228h.02M28 224h.02M29 221h.02M30 218h.02M31 355h.02M32 358h.02M33 352h.02M34 347h.02M35 342h.02M36 336h.02M37 500h.02M38 496h.02M39 492h.02M40 488h.02M41 484h.02M42 479h.02M43 585h.02M44 575h.02M45 568h.02M46 562h.02M47 556h.02M48 550h.02M49 605h.02M50 604h.02M51 603h.02M52 602h.02M53 602h.02M54 601h.02M55 600h.02M56 600h.02M57 599h.02M58 599h.02M59 598h.02M60 598h.02"/>
<path vector-effect="non-scaling-stroke" stroke="#ee1c1c" d="M1 970h.02M2 640h.02M3 630h.02M4 622h.02M5 617h.02M6 615h.02M7 575h.02M8 575h.02M9 574h.02M10 574h.02M11 575h.02M12 574h.02M13 522h.02M14 522h.02M15 521h.02M16 521h.02M17 522h.02M18 525h.02M19 430h.02M20 388h.02M21 384h.02M22 382h.02M23 380h.02M24 378h.02M25 345h.02M26 255h.02M27 238h.02M28 232h.02M29 228h.02M30 225h.02M31 297h.02M32 372h.02M33 367h.02M34 362h.02M35 356h.02M36 350h.02M37 510h.02M38 512h.02M39 505h.02M40 500h.02M41 495h.02M42 490h.02M43 605h.02M44 600h.02M45 590h.02M46 580h.02M47 572h.02M48 565h.02M49 620h.02M50 620h.02M51 619h.02M52 618h.02M53 617h.02M54 617h.02M55 616h.02M56 615h.02M57 614h.02M58 614h.02M59 613h.02M60 612h.02"/>
</g>
<g font-size="10.5" font-style="italic">
<text transform="translate(756.5,660) rotate(-65)">100</text><text transform="translate(773,664) rotate(-65)">300</text><text transform="translate(793,675) rotate(-65)">600</text><text transform="translate(816,700) rotate(-65)">1200</text><text transform="translate(836,729) rotate(-65)">2400</text><text transform="translate(852,711) rotate(-65)">1200</text><text transform="translate(879,681) rotate(-65)">600</text><text transform="translate(901,664) rotate(-65)">300</text><text transform="translate(933,662) rotate(-65)">100</text></g>
<text x="945" y="624" text-anchor="end" font-size="13">unit:mAh/g</text>
<circle cx="749.3" cy="751.5" r="3.3" fill="#ee1c1c"/><circle cx="749.3" cy="767.2" r="3.3" fill="#1c1cee"/>
<text x="762" y="756" font-size="13.5">Discharge</text><text x="762" y="771.5" font-size="13.5">Charge</text>

<rect x="1011.8" y="608" width="209.8" height="168.3" fill="none" stroke="#000" stroke-width="1.8"/>
<g text-anchor="middle"><text x="1011.8" y="794">0</text><text x="1046.6" y="794">50</text><text x="1081.5" y="794">100</text><text x="1116.3" y="794">150</text><text x="1151.2" y="794">200</text><text x="1186" y="794">250</text><text x="1218" y="794">300</text>
<text x="1108" y="808" font-size="14">Cycle Number</text></g>
<g text-anchor="end"><text x="1007" y="781">0</text><text x="1007" y="758.5">100</text><text x="1007" y="736">200</text><text x="1007" y="713.5">300</text><text x="1007" y="691">400</text><text x="1007" y="668.5">500</text><text x="1007" y="646">600</text><text x="1007" y="623.5">700</text></g>
<g stroke="#000" stroke-width="1.2"><line x1="1011.8" y1="753.8" x2="1007.8" y2="753.8"/><line x1="1011.8" y1="731.2" x2="1007.8" y2="731.2"/><line x1="1011.8" y1="708.7" x2="1007.8" y2="708.7"/><line x1="1011.8" y1="686.1" x2="1007.8" y2="686.1"/><line x1="1011.8" y1="663.6" x2="1007.8" y2="663.6"/><line x1="1011.8" y1="641" x2="1007.8" y2="641"/><line x1="1011.8" y1="618.5" x2="1007.8" y2="618.5"/>
<line x1="1046.6" y1="776" x2="1046.6" y2="780"/><line x1="1081.5" y1="776" x2="1081.5" y2="780"/><line x1="1116.3" y1="776" x2="1116.3" y2="780"/><line x1="1151.2" y1="776" x2="1151.2" y2="780"/><line x1="1186" y1="776" x2="1186" y2="780"/></g>
<text transform="translate(972,690) rotate(-90)" text-anchor="middle" font-size="15">Capacity (mAh/g)</text>
<g transform="translate(1011.8,776.3) scale(0.6968,-0.2254)" fill="none" stroke-linejoin="round" stroke-linecap="round">
<polyline vector-effect="non-scaling-stroke" stroke="#111" stroke-width="6" points="3,85 20,80 60,82 100,79 150,81 200,80 250,82 298,80"/>
<polyline vector-effect="non-scaling-stroke" stroke="#999" stroke-width="4" points="2,110 6,92"/>
<polyline vector-effect="non-scaling-stroke" stroke="#8a2a9a" stroke-width="5" points="3,410 20,402 30,385 40,330 50,260 60,215 80,180 100,162 150,152 200,147 300,137"/>
<polyline vector-effect="non-scaling-stroke" stroke="#1a8a1a" stroke-width="5" points="3,392 20,372 30,352 40,300 50,232 60,192 80,165 100,155 150,146 200,139 250,134 298,128"/>
<polyline vector-effect="non-scaling-stroke" stroke="#1c1cee" stroke-width="5" points="3,472 8,455 30,455 60,458 100,452 150,440 160,430 200,427 250,417 298,402"/>
<polyline vector-effect="non-scaling-stroke" stroke="#ee1c1c" stroke-width="6" points="2,415 10,425 30,435 50,440 80,438 100,432 150,420 200,412 250,402 280,395 298,388"/>
<path vector-effect="non-scaling-stroke" stroke-width="5" stroke="#1c1cee" d="M1 710h.3"/><path vector-effect="non-scaling-stroke" stroke-width="4.5" stroke="#8a2a9a" d="M2 645h.3"/><path vector-effect="non-scaling-stroke" stroke-width="4.5" stroke="#999" d="M2 535h.3"/><path vector-effect="non-scaling-stroke" stroke-width="5" stroke="#ee1c1c" d="M1 445h.3"/>
</g>
<polygon points="1103.2,615 1107,619 1103.2,623 1099.4,619" fill="#999"/><polygon points="1122.2,615 1126,619 1122.2,623 1118.4,619" fill="#000"/>
<rect x="1100" y="633" width="6" height="6" fill="#8a2a9a"/><rect x="1119" y="633" width="6" height="6" fill="#1a8a1a"/>
<circle cx="1103.2" cy="655" r="3.3" fill="#1c1cee"/><circle cx="1122.2" cy="655" r="3.3" fill="#ee1c1c"/>
<g font-size="13.5"><text x="1135.5" y="623.5">CNT Sponge</text><text x="1135.5" y="641" fill="#1a8a1a">CNT/CoSe<tspan font-size="9" dy="3">2</tspan></text><text x="1135.5" y="659.5" fill="#ee1c1c">CNT/CoSe<tspan font-size="9" dy="3">2</tspan><tspan dy="-3">/C</tspan></text></g>

<rect x="732" y="881.5" width="211" height="168.5" fill="none" stroke="#000" stroke-width="1.8"/>
<g text-anchor="middle"><text x="737.8" y="1068">0</text><text x="778.6" y="1068">20</text><text x="819.4" y="1068">40</text><text x="860.3" y="1068">60</text><text x="901.1" y="1068">80</text><text x="941.9" y="1068">100</text>
<text x="840" y="1085.5" font-size="14">Compressive Strain (%)</text></g>
<g text-anchor="end"><text x="727" y="1038">0.0</text><text x="727" y="1004">0.1</text><text x="727" y="970">0.2</text><text x="727" y="936">0.3</text><text x="727" y="902">0.4</text></g>
<g stroke="#000" stroke-width="1.2"><line x1="732" y1="1033.5" x2="728" y2="1033.5"/><line x1="732" y1="999.5" x2="728" y2="999.5"/><line x1="732" y1="965.5" x2="728" y2="965.5"/><line x1="732" y1="931.6" x2="728" y2="931.6"/><line x1="732" y1="897.6" x2="728" y2="897.6"/>
<line x1="737.8" y1="1050" x2="737.8" y2="1054"/><line x1="778.6" y1="1050" x2="778.6" y2="1054"/><line x1="819.4" y1="1050" x2="819.4" y2="1054"/><line x1="860.3" y1="1050" x2="860.3" y2="1054"/><line x1="901.1" y1="1050" x2="901.1" y2="1054"/></g>
<text transform="translate(694,966) rotate(-90)" text-anchor="middle" font-size="13.5">Compressive Stress (MPa)</text>
<g transform="translate(737.8,1033.5) scale(2.041,-339.8)" fill="none" stroke-width="2" stroke-linejoin="round">
<polyline vector-effect="non-scaling-stroke" stroke="#1c1cee" points="0,0 20,0.008 30,0.03 40,0.06 50,0.1 57,0.16 60,0.185 65,0.21 70,0.235 75,0.26 80,0.3 85,0.34 88,0.37 90,0.39 89.8,0.35 89.5,0.3 89,0.22 88,0.15 85,0.1 80,0.072 75,0.058 65,0.04 50,0.022 35,0.01 20,0.003 0,0"/>
<polyline vector-effect="non-scaling-stroke" stroke="#ee1c1c" points="0,0 10,0.005 20,0.02 28,0.05 31,0.08 40,0.11 50,0.15 60,0.19 59.5,0.15 59,0.1 57,0.07 53,0.045 45,0.025 35,0.012 20,0.003 0,0"/>
<polyline vector-effect="non-scaling-stroke" stroke="#000" points="0,0 5,0.003 10,0.012 15,0.025 20,0.04 25,0.057 30,0.077 29.5,0.06 28.5,0.04 26,0.025 23,0.014 18,0.005 10,0.001 0,0"/>
</g>
<g stroke-width="2.5"><line x1="742" y1="895.8" x2="762" y2="895.8" stroke="#000"/><line x1="742" y1="912.3" x2="762" y2="912.3" stroke="#ee1c1c"/><line x1="742" y1="928.5" x2="762" y2="928.5" stroke="#1c1cee"/></g>
<g font-size="12.5"><text x="768" y="900">30 %</text><text x="768" y="916.5">60 %</text><text x="768" y="932.5">90 %</text></g>

<rect x="1004.6" y="881.5" width="219.8" height="177.2" fill="none" stroke="#000" stroke-width="1.8"/>
<g text-anchor="middle"><text x="1009" y="1078">0</text><text x="1046.3" y="1078">2</text><text x="1083.6" y="1078">4</text><text x="1120.8" y="1078">6</text><text x="1158.1" y="1078">8</text><text x="1195.4" y="1078">10</text>
<text x="1116" y="1094" font-size="14.5">Areal Capacity (mAh/cm<tspan font-size="10" dy="-6">2</tspan><tspan dy="6">)</tspan></text></g>
<g text-anchor="end"><text x="1000" y="1063.5">0.0</text><text x="1000" y="1035">0.5</text><text x="1000" y="1006">1.0</text><text x="1000" y="977">1.5</text><text x="1000" y="948.5">2.0</text><text x="1000" y="920">2.5</text><text x="1000" y="891">3.0</text></g>
<g stroke="#000" stroke-width="1.2"><line x1="1004.6" y1="1030" x2="1000.6" y2="1030"/><line x1="1004.6" y1="1001.3" x2="1000.6" y2="1001.3"/><line x1="1004.6" y1="972.5" x2="1000.6" y2="972.5"/><line x1="1004.6" y1="943.9" x2="1000.6" y2="943.9"/><line x1="1004.6" y1="915.2" x2="1000.6" y2="915.2"/><line x1="1004.6" y1="886.5" x2="1000.6" y2="886.5"/>
<line x1="1046.3" y1="1058.7" x2="1046.3" y2="1062.7"/><line x1="1083.6" y1="1058.7" x2="1083.6" y2="1062.7"/><line x1="1120.8" y1="1058.7" x2="1120.8" y2="1062.7"/><line x1="1158.1" y1="1058.7" x2="1158.1" y2="1062.7"/><line x1="1195.4" y1="1058.7" x2="1195.4" y2="1062.7"/></g>
<text transform="translate(966,970) rotate(-90)" text-anchor="middle" font-size="14.5">Voltage (V vs. Na/Na<tspan font-size="10" dy="-6">+</tspan><tspan dy="6">)</tspan></text>
<g transform="translate(1009,1058.7) scale(18.64,-57.4)" fill="none" stroke-width="2" stroke-linejoin="round">
<polyline vector-effect="non-scaling-stroke" stroke="#ee1c1c" points="0.05,1.3 0.3,1.0 0.8,0.88 2,0.86 4,0.85 6,0.82 7.5,0.76 8.5,0.65 9,0.45 9.6,0.25 10.5,0.0"/>
<polyline vector-effect="non-scaling-stroke" stroke="#ee1c1c" points="0,0.1 0.2,0.5 0.5,0.9 1,1.3 1.5,1.6 2,1.72 3,1.8 5,1.85 6.2,1.92 6.6,2.05 6.8,2.4 7.0,3.0"/>
<polyline vector-effect="non-scaling-stroke" stroke="#1c1cee" points="0.05,1.4 0.3,1.0 0.8,0.88 2,0.87 4,0.86 5.5,0.82 6,0.65 6.5,0.4 7.2,0.2 8.0,0"/>
<polyline vector-effect="non-scaling-stroke" stroke="#1c1cee" points="0,0.1 0.5,0.8 1,1.3 1.5,1.65 2.5,1.75 4,1.8 4.8,1.87 5.0,2.2 5.2,3.0"/>
<polyline vector-effect="non-scaling-stroke" stroke="#1a8a1a" points="0,1.7 0.3,1.0 1,0.75 1.5,0.72 3,0.72 4,0.62 5,0.45 5.6,0.2 6.4,0"/>
<polyline vector-effect="non-scaling-stroke" stroke="#1a8a1a" points="0,0.1 0.5,0.9 1,1.4 1.5,1.7 2.5,1.8 3.5,1.85 3.8,2.0 4.0,3.0"/>
<polyline vector-effect="non-scaling-stroke" stroke="#e0208a" points="0,2.7 0.05,1.6 0.3,0.95 1,0.72 2,0.68 3,0.55 4,0.35 5.2,0"/>
<polyline vector-effect="non-scaling-stroke" stroke="#e0208a" points="0,0.1 0.4,0.9 1,1.5 1.5,1.8 2.5,1.85 2.9,2.0 3.1,2.5 3.2,3.0"/>
<polyline vector-effect="non-scaling-stroke" stroke="#f39020" points="0,2.5 0.05,1.5 0.2,1.0 0.5,0.92 1.2,0.88 1.8,0.8 2.2,0.5 2.9,0"/>
<polyline vector-effect="non-scaling-stroke" stroke="#f39020" points="0,0.1 0.2,0.8 0.5,1.5 0.8,1.7 1.3,1.75 1.6,1.85 1.7,2.2 1.8,3.0"/>
</g>
<text x="1182" y="900" font-size="12.5" text-anchor="middle">unit: mg/cm<tspan font-size="9" dy="-5">2</tspan></text>
<g stroke-width="2.5"><line x1="1170" y1="912.3" x2="1191" y2="912.3" stroke="#ee1c1c"/><line x1="1170" y1="929.2" x2="1191" y2="929.2" stroke="#1c1cee"/><line x1="1170" y1="946.4" x2="1191" y2="946.4" stroke="#1a8a1a"/><line x1="1170" y1="963.6" x2="1191" y2="963.6" stroke="#e0208a"/><line x1="1170" y1="980.8" x2="1191" y2="980.8" stroke="#f39020"/></g>
<g font-size="13"><text x="1193" y="917" fill="#ee1c1c">17.4</text><text x="1193" y="934" fill="#1c1cee">12.0</text><text x="1193" y="951" fill="#1a8a1a">8.82</text><text x="1193" y="968" fill="#e0208a">6.87</text><text x="1193" y="985.5" fill="#f39020">4.11</text></g>

<rect x="727.8" y="1096" width="218.7" height="177.8" fill="none" stroke="#000" stroke-width="1.8"/>
<g text-anchor="middle"><text x="727.4" y="1293">0</text><text x="771" y="1293">10</text><text x="814.6" y="1293">20</text><text x="858.2" y="1293">30</text><text x="901.8" y="1293">40</text><text x="943" y="1293">50</text>
<text x="836" y="1308" font-size="14">Cycle Number</text></g>
<g text-anchor="end"><text x="722" y="1278.5">0</text><text x="722" y="1246">2</text><text x="722" y="1214">4</text><text x="722" y="1181.5">6</text><text x="722" y="1149.5">8</text><text x="724" y="1117">10</text></g>
<g stroke="#000" stroke-width="1.2"><line x1="727.8" y1="1241.5" x2="723.8" y2="1241.5"/><line x1="727.8" y1="1209.3" x2="723.8" y2="1209.3"/><line x1="727.8" y1="1177" x2="723.8" y2="1177"/><line x1="727.8" y1="1144.8" x2="723.8" y2="1144.8"/><line x1="727.8" y1="1112.5" x2="723.8" y2="1112.5"/>
<line x1="771" y1="1273.8" x2="771" y2="1277.8"/><line x1="814.6" y1="1273.8" x2="814.6" y2="1277.8"/><line x1="858.2" y1="1273.8" x2="858.2" y2="1277.8"/><line x1="901.8" y1="1273.8" x2="901.8" y2="1277.8"/></g>
<text transform="translate(696,1185) rotate(-90)" text-anchor="middle" font-size="14.5">Areal Capacity (mAh/cm<tspan font-size="10" dy="-6">2</tspan><tspan dy="6">)</tspan></text>
<g transform="translate(727.4,1273.8) scale(4.36,-16.13)" fill="none" stroke-linecap="round">
<polyline vector-effect="non-scaling-stroke" stroke="#ee1c1c" stroke-width="4" points="2,7.25 10,7.15 20,7.1 30,7.15 40,7.1 50,7.05"/>
<polyline vector-effect="non-scaling-stroke" stroke="#fff" stroke-width="1.8" stroke-dasharray="2 2.3" points="2,7.25 10,7.15 20,7.1 30,7.15 40,7.1 50,7.05"/>
<polyline vector-effect="non-scaling-stroke" stroke="#ee1c1c" stroke-width="5" points="2,6.85 20,6.85 30,6.9 40,6.85 50,6.8"/>
<polyline vector-effect="non-scaling-stroke" stroke="#1c1cee" stroke-width="4" points="2,5.45 10,5.3 30,5.3 50,5.25"/>
<polyline vector-effect="non-scaling-stroke" stroke="#fff" stroke-width="1.8" stroke-dasharray="2 2.3" points="2,5.45 10,5.3 30,5.3 50,5.25"/>
<polyline vector-effect="non-scaling-stroke" stroke="#1c1cee" stroke-width="5" points="2,5.0 30,5.05 50,4.95"/>
<polyline vector-effect="non-scaling-stroke" stroke="#1a8a1a" stroke-width="4" points="2,4.35 10,4.2 30,4.15 50,4.1"/>
<polyline vector-effect="non-scaling-stroke" stroke="#fff" stroke-width="1.8" stroke-dasharray="2 2.3" points="2,4.35 10,4.2 30,4.15 50,4.1"/>
<polyline vector-effect="non-scaling-stroke" stroke="#1a8a1a" stroke-width="5" points="1,4.05 20,4.05 50,3.95"/>
<polyline vector-effect="non-scaling-stroke" stroke="#e0208a" stroke-width="4" points="2,3.55 10,3.4 30,3.35 50,3.3"/>
<polyline vector-effect="non-scaling-stroke" stroke="#fff" stroke-width="1.8" stroke-dasharray="2 2.3" points="2,3.55 10,3.4 30,3.35 50,3.3"/>
<polyline vector-effect="non-scaling-stroke" stroke="#e0208a" stroke-width="5" points="1,3.2 20,3.2 50,3.1"/>
<polyline vector-effect="non-scaling-stroke" stroke="#f39020" stroke-width="4" points="2,2.2 20,2.15 50,2.1"/>
<polyline vector-effect="non-scaling-stroke" stroke="#fff" stroke-width="1.8" stroke-dasharray="2 2.3" points="2,2.2 20,2.15 50,2.1"/>
<polyline vector-effect="non-scaling-stroke" stroke="#f39020" stroke-width="5" points="1,1.8 2,2.0 20,2.0 50,1.95"/>
</g>
<g fill="none" stroke-width="1.2"><circle cx="731.8" cy="1104.4" r="2.8" stroke="#ee1c1c"/><polygon points="731.8,1141.5 735,1144.8 731.8,1148 728.6,1144.8" stroke="#1c1cee"/><rect x="729.3" y="1167.5" width="5" height="5" stroke="#1a8a1a"/><circle cx="731.8" cy="1190" r="2.5" stroke="#e0208a"/><circle cx="731.8" cy="1227" r="2.5" stroke="#f39020"/></g>
<circle cx="731.8" cy="1160.8" r="2.6" fill="#ee1c1c"/>
<g fill="none" stroke-width="1.2"><circle cx="796.6" cy="1106.7" r="3" stroke="#ee1c1c"/><polygon points="796.6,1119.8 800.3,1123.5 796.6,1127.2 792.9,1123.5" stroke="#1c1cee"/><rect x="793.6" y="1137.8" width="6" height="6" stroke="#1a8a1a"/><circle cx="884.5" cy="1106.7" r="3" stroke="#e0208a"/><polygon points="884.5,1120 888,1122.6 886.6,1126.5 882.4,1126.5 881,1122.6" stroke="#f39020"/></g>
<circle cx="815.6" cy="1106.7" r="3.2" fill="#ee1c1c"/><polygon points="815.6,1119.8 819.3,1123.5 815.6,1127.2 811.9,1123.5" fill="#1c1cee"/><rect x="812.6" y="1137.8" width="6" height="6" fill="#1a8a1a"/><circle cx="903" cy="1106.7" r="3.2" fill="#e0208a"/><polygon points="903,1120 906.5,1122.6 905.1,1126.5 900.9,1126.5 899.5,1122.6" fill="#f39020"/>
<g font-size="14"><text x="825.3" y="1111.5" fill="#ee1c1c">17.4</text><text x="825.3" y="1128.3" fill="#1c1cee">12.0</text><text x="825.3" y="1145.6" fill="#1a8a1a">8.82</text><text x="913.2" y="1111.5" fill="#e0208a">6.87</text><text x="913.2" y="1128.3" fill="#f39020">4.11</text></g>
<text x="897" y="1267" font-size="13" text-anchor="middle">unit: mg/cm<tspan font-size="9" dy="-5">2</tspan></text>

<line x1="997.4" y1="1122.5" x2="997.4" y2="1282" stroke="#ee1c1c" stroke-width="1.8"/>
<line x1="1196.5" y1="1122.5" x2="1196.5" y2="1282" stroke="#1c1cee" stroke-width="1.8"/>
<line x1="997.4" y1="1282" x2="1196.5" y2="1282" stroke="#000" stroke-width="1.8"/>
<g fill="#ee1c1c"><rect x="1017.6" y="1258.1" width="10" height="23.9" rx="3"/><rect x="1046.4" y="1243.2" width="10" height="38.8" rx="3"/><rect x="1068" y="1232.6" width="10" height="49.4" rx="3"/><rect x="1104" y="1215.5" width="10" height="66.5" rx="3"/><rect x="1168.8" y="1186.3" width="10" height="95.7" rx="3"/></g>
<polyline points="1022.6,1237.1 1051.4,1210.4 1073,1195.5 1109,1172 1173.8,1131.4" fill="none" stroke="#1c1cee" stroke-width="2"/>
<g fill="#1c1cee"><circle cx="1022.6" cy="1237.1" r="3.6"/><circle cx="1051.4" cy="1210.4" r="3.6"/><circle cx="1073" cy="1195.5" r="3.6"/><circle cx="1109" cy="1172" r="3.6"/><circle cx="1173.8" cy="1131.4" r="3.6"/></g>
<g text-anchor="middle" font-size="12.5"><text x="1015.4" y="1299">2.0</text><text x="1051.4" y="1299">2.5</text><text x="1087.4" y="1299">3.0</text><text x="1123.4" y="1299">3.5</text><text x="1159.4" y="1299">4.0</text><text x="1195.4" y="1299">4.5</text>
<text x="1105" y="1312" font-size="11">Initial Thickness (mm)</text></g>
<g text-anchor="end" fill="#ee1c1c" font-size="12.5"><text x="992" y="1286">0</text><text x="992" y="1259.5">5</text><text x="992" y="1233">10</text><text x="992" y="1206.5">15</text><text x="992" y="1180">20</text><text x="992" y="1153">25</text><text x="992" y="1127">30</text></g>
<g fill="#1c1cee" font-size="12.5"><text x="1202" y="1286">0</text><text x="1202" y="1265">1</text><text x="1202" y="1243.5">2</text><text x="1202" y="1222">3</text><text x="1202" y="1200.5">4</text><text x="1202" y="1179">5</text><text x="1202" y="1158">6</text><text x="1202" y="1136.5">7</text></g>
<text transform="translate(968,1200) rotate(-90)" text-anchor="middle" font-size="13" fill="#ee1c1c">Areal Loading (mg/cm<tspan font-size="9" dy="-5">2</tspan><tspan dy="5">)</tspan></text>
<text transform="translate(1226,1195) rotate(-90)" text-anchor="middle" font-size="13" fill="#1c1cee">Areal capacity (mAh/cm<tspan font-size="9" dy="-5">2</tspan><tspan dy="5">)</tspan></text>
</g>
</svg>

<div class="hd" style="left:60px;top:320.6px;width:570px;height:51px;line-height:49px">Synthesis and cell assembly description</div>
<div class="hd" style="left:60px;top:828px;width:570px;height:50px;line-height:48px">Morphological and structural properties</div>
<div class="hd" style="left:674.5px;top:320px;width:571.5px;height:52.6px;line-height:50px">Sodium storage behavior</div>
<div class="hd" style="left:674.5px;top:820px;width:571.5px;height:51.5px;line-height:49px">Areal capacity of CNT/CoSe<sub>2</sub>/C</div>

<div class="ck" style="left:59px;top:1341px">✓</div>
<div class="bl" style="left:84px;top:1341.5px">Successful synthesis of 3D CNT/CoSe<sub>2</sub>/C heterostructure.</div>
<div class="ck" style="left:59px;top:1366px">✓</div>
<div class="bl j" style="left:84px;top:1366px;width:537px"><span>Fine</span><span>Co<sub>3</sub>O<sub>4</sub></span><span>NPs</span><span>having</span><span>a</span><span>size</span><span>of</span><span>~8</span><span>nm</span><span>are</span><span>well-adhered</span></div>
<div class="bl j" style="left:84px;top:1391px;width:537px"><span>to</span><span>the</span><span>CNTs.</span><span>The</span><span>analysis</span><span>of</span><span>CNT/CoSe<sub>2</sub></span><span>revealed</span><span>up</span><span>to</span></div>
<div class="bl" style="left:84px;top:1416px">~25 nm increase in particle size due to ripening of NPs.</div>
<div class="ck" style="left:59px;top:1441px">✓</div>
<div class="bl j" style="left:84px;top:1441px;width:537px"><span>Uniform</span><span>coating</span><span>of</span><span>carbon</span><span>on</span><span>the</span><span>surface</span><span>of</span><span>a</span><span>hybrid</span><span>with</span></div>
<div class="bl" style="left:84px;top:1466px">an average thickness of ~4.0 nm.</div>

<div class="ck" style="left:662px;top:1320px">✓</div>
<div class="bl br j" style="left:687px;top:1320px;width:566px"><span>After</span><span>11</span><span>times</span><span>reduction</span><span>in</span><span>thickness</span><span>corresponding</span><span>to</span><span>the</span></div>
<div class="bl br j" style="left:687px;top:1345px;width:566px"><span>compressive</span><span>strain</span><span>of</span><span>~90%,</span><span>the</span><span>hybrid</span><span>sponge</span><span>still</span><span>maintains</span></div>
<div class="bl br" style="left:687px;top:1370px">desirable porosity.</div>
<div class="ck" style="left:662px;top:1395px">✓</div>
<div class="bl br j" style="left:687px;top:1395px;width:566px"><span>No</span><span>any</span><span>compositional</span><span>or</span><span>structural</span><span>change</span><span>occurred</span><span>after</span><span>high</span></div>
<div class="bl br" style="left:687px;top:1420px">compression.</div>
<div class="ck" style="left:662px;top:1445px">✓</div>
<div class="bl br j" style="left:687px;top:1445px;width:566px"><span>The</span><span>CNT/CoSe<sub>2</sub>/C</span><span>electrode</span><span>has</span><span>good</span><span>reversibility</span><span>and</span><span>high</span></div>
<div class="bl br" style="left:687px;top:1470px">cyclic stability due to synergistic effect of multi-components.</div>

<div class="bl" style="left:41px;top:1510px;font-weight:bold;font-size:20.6px">References</div>
<div class="bl" style="left:41px;top:1536px;font-size:20.6px"><b>Yousaf M</b>, Chen Y, Tabassum H, Wang Z, Wang Y, Abid A Y, Mahmood A, Mahmood N, Guo S, Han Ray P S*, Gao P*, Advanced</div>
<div class="bl" style="left:41px;top:1561px;font-size:20.6px">Science, 2020, 7(5): 1902907.</div>

</div></body></html>
